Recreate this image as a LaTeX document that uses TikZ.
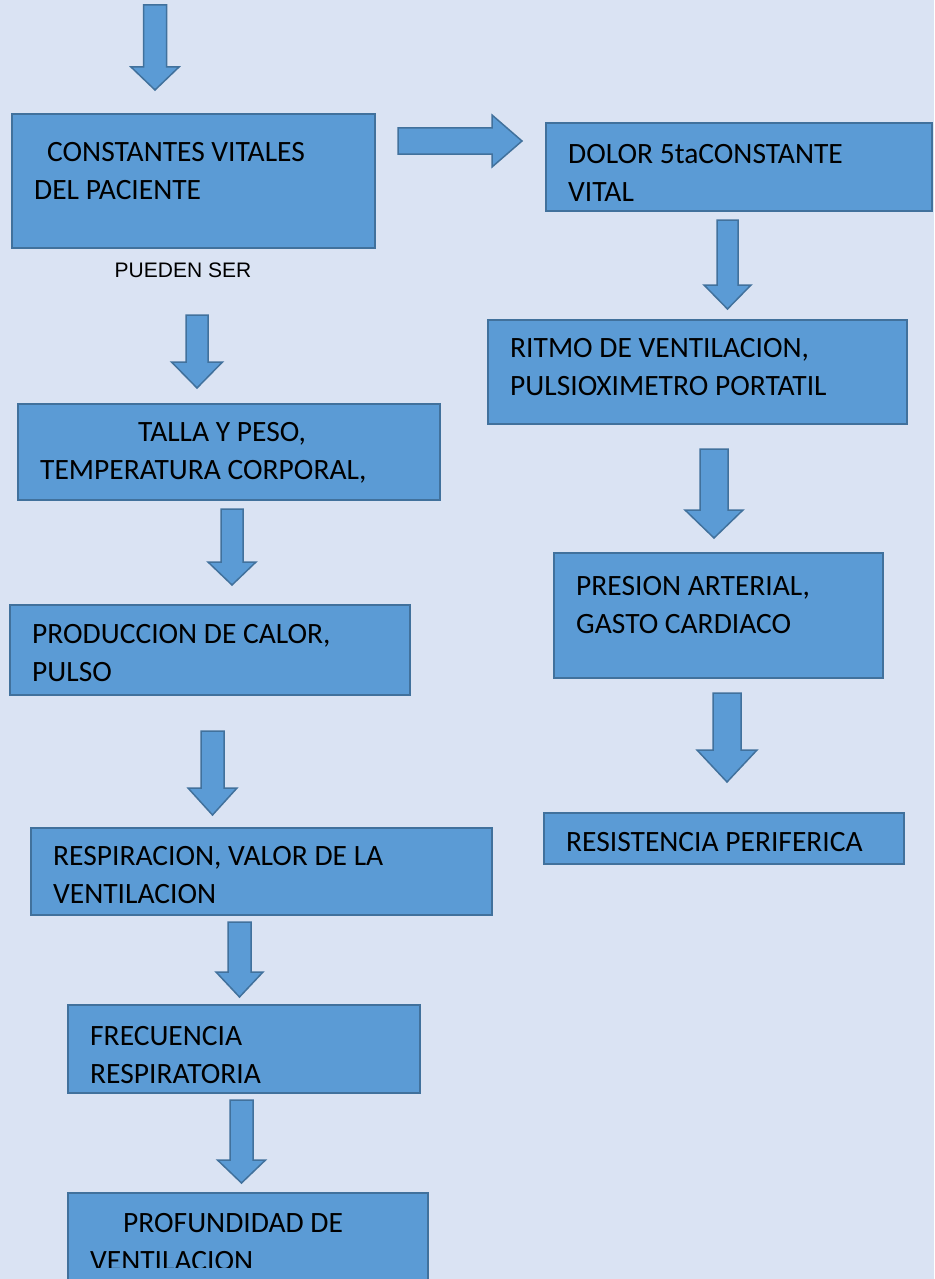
\documentclass[tikz,border=0pt]{standalone}
\usepackage{fontspec}
\setmainfont{Carlito}
\newfontfamily\arialfont{Liberation Sans}
\definecolor{fondo}{HTML}{DAE3F3}
\definecolor{azul}{HTML}{5B9BD5}
\definecolor{borde}{HTML}{41719C}

\tikzset{
  caja/.style={draw=borde, fill=azul, line width=2pt, rectangle, inner sep=0pt},
  texto/.style={anchor=base west, inner sep=0pt, align=left, font=\fontsize{29.5}{38}\selectfont},
  flecha/.style={draw=borde, fill=azul, line width=1.5pt, line join=miter}
}
% cx, top, neck, tip, half shaft, half head
\newcommand{\flechaabajo}[6]{%
  \draw[flecha] (#1-#5,#2) -- (#1+#5,#2) -- (#1+#5,#3) -- (#1+#6,#3) -- (#1,#4) -- (#1-#6,#3) -- (#1-#5,#3) -- cycle;}

\begin{document}
\begin{tikzpicture}[x=1pt,y=-1pt]
\fill[fondo] (0,0) rectangle (934,1279);
\useasboundingbox (0,0) rectangle (934,1279);

% left column (text nodes sit on the baseline of their last line)
\flechaabajo{155}{5}{67}{90}{11.5}{24}
\node[caja, minimum width=363, minimum height=133] (constantes) at (193.5,181) {};
\node[texto] (tconstantes) at (34,199) {\hspace*{13pt}CONSTANTES VITALES\\DEL PACIENTE};
\node[anchor=base, inner sep=0pt, font=\arialfont\fontsize{21}{25}\selectfont] (pueden) at (183,277) {PUEDEN SER};

\flechaabajo{197}{315}{362}{388}{11}{25.5}
\node[caja, minimum width=422, minimum height=96] (talla) at (229,452) {};
\node[texto] (ttalla) at (40,479) {\hspace*{98pt}TALLA Y PESO,\\TEMPERATURA CORPORAL,};

\flechaabajo{232}{509}{562}{585}{11}{24}
\node[caja, minimum width=400, minimum height=90] (calor) at (210,650) {};
\node[texto] (tcalor) at (32,681) {PRODUCCION DE CALOR,\\PULSO};

\flechaabajo{212.5}{731}{788}{815}{11.5}{24.5}
\node[caja, minimum width=461, minimum height=87] (respiracion) at (261.5,871.5) {};
\node[texto] (trespiracion) at (53,903) {RESPIRACION, VALOR DE LA\\VENTILACION};

\flechaabajo{239.5}{922}{972}{997}{11.5}{23.5}
\node[caja, minimum width=352, minimum height=88] (frecuencia) at (244,1049) {};
\node[texto] (tfrecuencia) at (90,1083) {FRECUENCIA\\RESPIRATORIA};

\flechaabajo{241.5}{1100}{1160}{1183}{11.5}{24}
\node[caja, minimum width=360, minimum height=100] (profundidad) at (248,1243) {};
\begin{scope}
  \clip (0,0) rectangle (934,1267);
  \node[texto] (tprofundidad) at (90,1270) {\hspace*{33pt}PROFUNDIDAD DE\\VENTILACION};
\end{scope}

% right column
\draw[flecha] (398,128) -- (492,128) -- (492,115) -- (522,141) -- (492,167) -- (492,154) -- (398,154) -- cycle;
\node[caja, minimum width=386, minimum height=88] (dolor) at (739,167) {};
\node[texto] (tdolor) at (568,201) {DOLOR 5taCONSTANTE\\VITAL};

\flechaabajo{727.5}{220}{285}{309}{10.5}{23.5}
\node[caja, minimum width=419, minimum height=104] (ritmo) at (697.5,372) {};
\node[texto] (tritmo) at (510,395) {RITMO DE VENTILACION,\\PULSIOXIMETRO PORTATIL};

\flechaabajo{714}{449}{510}{538}{14}{29}
\node[caja, minimum width=329, minimum height=125] (presion) at (718.5,615.5) {};
\node[texto] (tpresion) at (576,633) {PRESION ARTERIAL,\\GASTO CARDIACO};

\flechaabajo{727}{693}{750}{782}{14}{30}
\node[caja, minimum width=360, minimum height=51] (resistencia) at (724,838.5) {};
\node[texto] (tresistencia) at (566,851) {RESISTENCIA PERIFERICA};
\end{tikzpicture}
\end{document}
